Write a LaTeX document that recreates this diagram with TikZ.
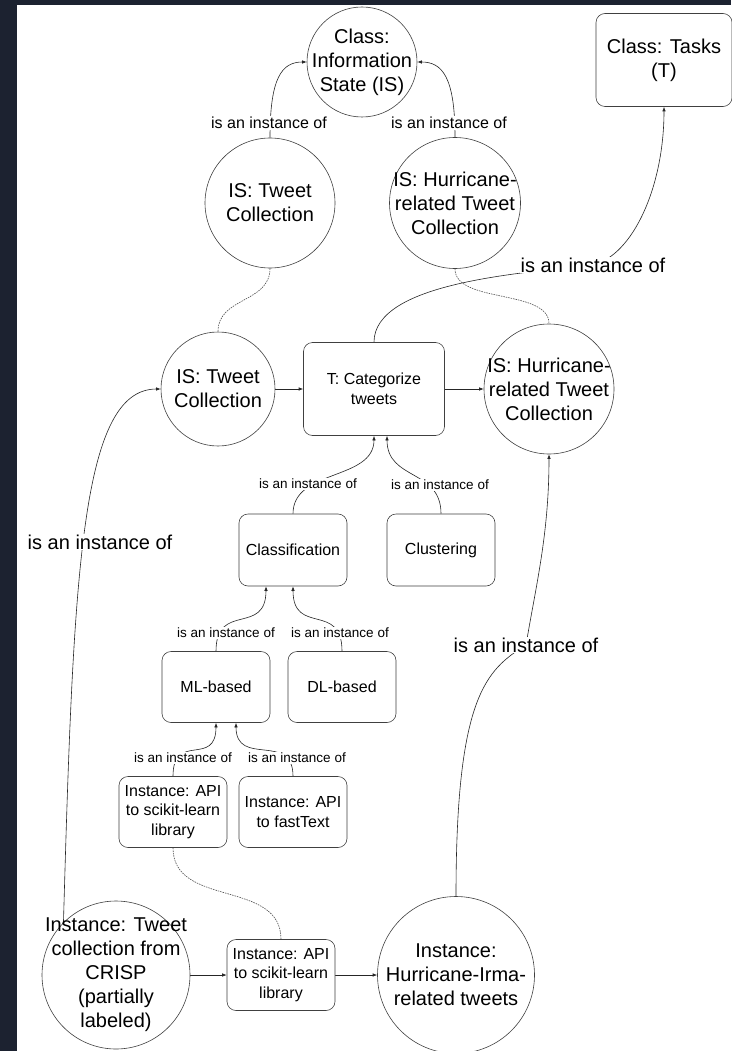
\documentclass[tikz,border=0pt]{standalone}
\usepackage{fontspec}
\setmainfont{Liberation Sans}
\usetikzlibrary{arrows.meta,backgrounds}
\definecolor{darkframe}{HTML}{1C2230}
\newcommand{\bigtxt}{\fontsize{20}{24}\selectfont}
\newcommand{\midtxt}{\fontsize{16}{19.5}\selectfont}
\newcommand{\smalltxt}{\fontsize{13.5}{16}\selectfont}

\begin{document}
\begin{tikzpicture}[x=1pt, y=-1pt, every path/.style={line width=0.6pt},
    bubble/.style={circle, draw=black!75, fill=white, minimum size=#1, inner sep=0pt},
    card/.style={rectangle, rounded corners=9pt, draw=black!75, fill=white, minimum width=108pt, minimum height=71pt, align=center, font=\midtxt},
    tag/.style={fill=white, inner sep=1pt, font=#1},
    rel/.style={draw=black!85, -{Latex[length=4.5pt,width=3.5pt]}},
    link/.style={draw=black!70, dash pattern=on 1.5pt off 1pt}]

    \useasboundingbox (0,0) rectangle (731,1051);

    % classes
    \node[bubble=110pt, label={[align=center, font=\bigtxt]center:Class:\\Information\\State (IS)}] (cis) at (362,62) {};
    \node[card, minimum width=136pt, minimum height=93pt, font=\bigtxt] (ct) at (664,60) {Class: Tasks\\(T)};

    \node[bubble=130pt, label={[align=center, font=\bigtxt]center:IS: Tweet\\Collection}] (ist1) at (270,203) {};
    \node[bubble=131pt, label={[align=center, font=\bigtxt]center:IS: Hurricane-\\related Tweet\\Collection}] (ihr1) at (455,203) {};

    % task row
    \node[bubble=114pt, label={[align=center, font=\bigtxt]center:IS: Tweet\\Collection}] (ist2) at (218,389) {};
    \node[card, minimum width=141pt, minimum height=93pt] (cat) at (374,389) {T: Categorize\\tweets};
    \node[bubble=130pt, label={[align=center, font=\bigtxt]center:IS: Hurricane-\\related Tweet\\Collection}] (ihr2) at (549,389) {};

    \node[card, minimum height=72pt] (cls) at (293,550) {Classification};
    \node[card, minimum height=72pt] (clu) at (441,550) {Clustering};
    \node[card] (mlb) at (216,687) {ML-based};
    \node[card] (dlb) at (342,687) {DL-based};
    \node[card] (api1) at (173,812) {Instance: API\\to scikit-learn\\library};
    \node[card] (ftx) at (293,812) {Instance: API\\to fastText};

    % instance row
    \node[bubble=148pt, label={[align=center, font=\bigtxt]center:Instance: Tweet\\collection from\\CRISP\\(partially\\labeled)}] (crisp) at (116,975) {};
    \node[card] (api2) at (281,975) {Instance: API\\to scikit-learn\\library};
    \node[bubble=157pt, label={[align=center, font=\bigtxt]center:Instance:\\Hurricane-Irma-\\related tweets}] (irma) at (456,975) {};

    % edge labels
    \node[tag=\midtxt] (l1) at (269,123) {is an instance of};
    \node[tag=\midtxt] (l2) at (449,123) {is an instance of};
    \node[tag=\bigtxt] (l5) at (593,265) {is an instance of};
    \node[tag=\smalltxt] (l3) at (308,484) {is an instance of};
    \node[tag=\smalltxt] (l4) at (440,485) {is an instance of};
    \node[tag=\smalltxt] (l6) at (226,633) {is an instance of};
    \node[tag=\smalltxt] (l7) at (340,633) {is an instance of};
    \node[tag=\smalltxt] (l8) at (183,758) {is an instance of};
    \node[tag=\smalltxt] (l9) at (297,758) {is an instance of};
    \node[tag=\bigtxt] (l10) at (100,542) {is an instance of};
    \node[tag=\bigtxt] (l11) at (526,645) {is an instance of};

    \begin{scope}[on background layer]
    \fill[darkframe] (0,0) rectangle (731,1051);
    \fill[white] (17,5) rectangle (731,1051);

    \draw[rel] (ist1.north) .. controls +(0,-60) and +(-25,0) .. (cis.west);
    \draw[rel] (ihr1.north) .. controls +(0,-60) and +(25,0) .. (cis.east);
    \draw[link] (ist1.south) .. controls +(0,35) and +(0,-35) .. (ist2.north);
    \draw[link] (ihr1.south) .. controls +(0,35) and +(0,-35) .. (ihr2.north);
    \draw[rel] (cat.north) .. controls +(0,-60) and +(-70,8) .. (l5.center) .. controls +(40,-10) and +(0,80) .. (ct.south);

    \draw[rel] (ist2.east) -- (cat.west);
    \draw[rel] (cat.east) -- (ihr2.west);
    \draw[rel] (cls.north) .. controls +(0,-45) and +(0,45) .. (cat.south);
    \draw[rel] (clu.north) .. controls +(0,-45) and +(0,45) .. ([xshift=13pt]cat.south);
    \draw[rel] (mlb.north) .. controls +(0,-50) and +(0,50) .. ([xshift=-27pt]cls.south);
    \draw[rel] (dlb.north) .. controls +(0,-50) and +(0,50) .. (cls.south);
    \draw[rel] (api1.north) .. controls +(0,-45) and +(0,45) .. (mlb.south);
    \draw[rel] (ftx.north) .. controls +(0,-45) and +(0,45) .. ([xshift=20pt]mlb.south);
    \draw[link] (api1.south) .. controls +(0,60) and +(0,-60) .. (api2.north);

    \draw[rel] (crisp.135) .. controls +(10,-350) and +(-80,0) .. (ist2.west);
    \draw[rel] (irma.north) .. controls +(0,-200) and +(-40,25) .. (l11.center) .. controls +(10,-60) and +(0,80) .. (ihr2.south);
    \draw[rel] (crisp.east) -- (api2.west);
    \draw[rel] (api2.east) -- (irma.west);
    \end{scope}
\end{tikzpicture}
\end{document}
